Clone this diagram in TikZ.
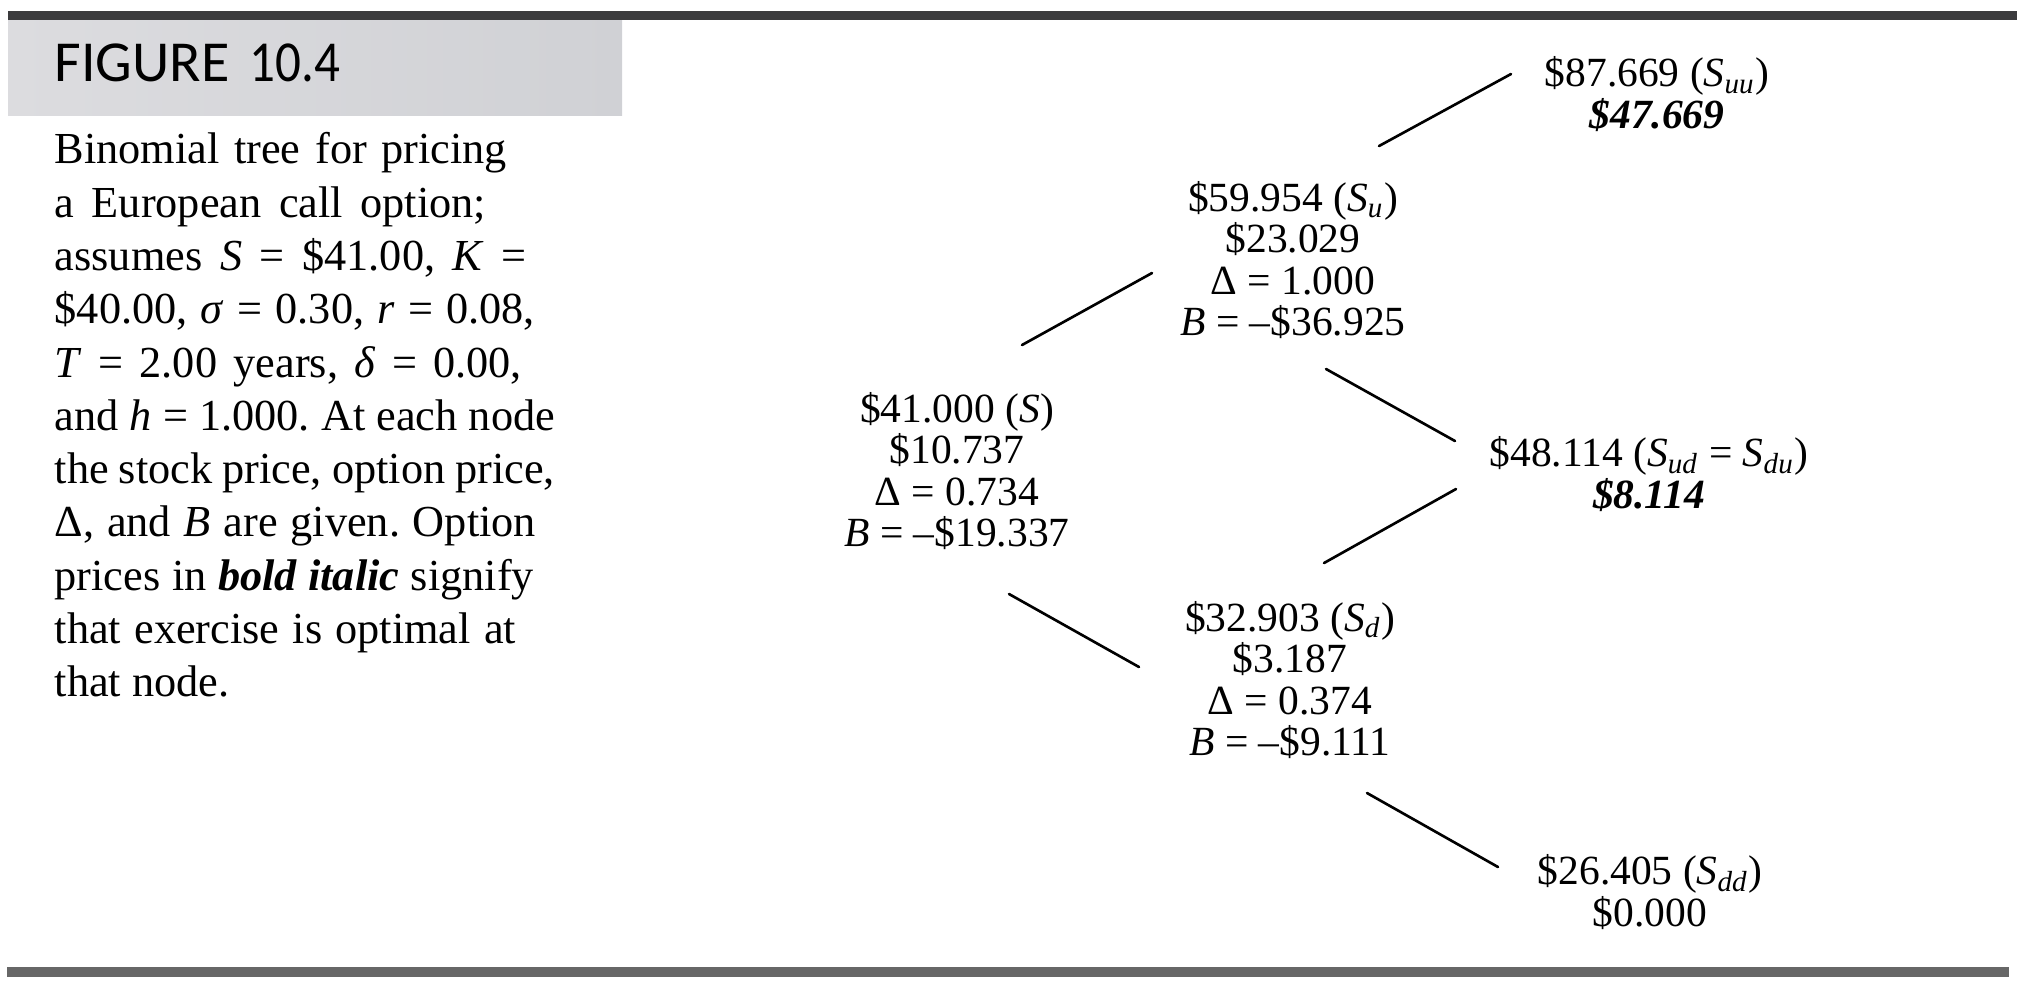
\documentclass[tikz,border=0pt]{standalone}
\usepackage{fontspec}
\setmainfont{Liberation Serif}
\newfontfamily\headfont{Carlito}
\definecolor{rulegray}{HTML}{3B3B3D}
\definecolor{footgray}{HTML}{676767}
\definecolor{headlight}{HTML}{DCDCDF}
\definecolor{headdark}{HTML}{BEBEC3}
\definecolor{headmid}{HTML}{D0D1D5}
\tikzset{
    price/.style={align=center, inner sep=0pt, font=\fontsize{11.8}{11.8}\selectfont},
    branch/.style={line width=.75pt, line cap=round},
}
\newcommand{\sub}[1]{\textit{S}\textsubscript{\textit{#1}}}
\newcommand{\capline}[2]{\makebox[#1mm][s]{#2}}
\frenchspacing

\begin{document}
\begin{tikzpicture}[x=0.01cm, y=-0.01cm]
    \useasboundingbox (0,0) rectangle (2028,990);
    % Rules and header
    \fill[rulegray] (8,11) rectangle (2017,20);
    \fill[footgray] (7,967) rectangle (2009,977);
    \shade[left color=headlight, middle color=headdark, right color=headmid] (8,20) rectangle (622,115);
    \node[anchor=base west, inner sep=0pt, font=\headfont\fontsize{16.5}{16.5}\selectfont] (Title) at (54,81) {FIGURE\hspace{0.35em}\scalebox{0.88}[1]{10.4}};
    % Caption
    \node[anchor=north west, align=left, inner sep=0pt, font=\fontsize{12.6}{15.15}\selectfont] (Caption) at (54,132) {%
        \capline{45.2}{Binomial tree for pricing}\\
        \capline{43.1}{a European call option;}\\
        \capline{47.2}{assumes \textit{S} = \$41.00, \textit{K} =}\\
        \capline{48.0}{\$40.00, \textit{σ} = 0.30, \textit{r} = 0.08,}\\
        \capline{46.7}{\textit{T} = 2.00 years, \textit{δ} = 0.00,}\\
        \capline{50.0}{and \textit{h} = 1.000. At each node}\\
        \capline{50.0}{the stock price, option price,}\\
        \capline{48.1}{Δ, and \textit{B} are given. Option}\\
        \capline{47.9}{prices in \textbf{\textit{bold italic}} signify}\\
        \capline{46.1}{that exercise is optimal at}\\
        that node.};
    % Step 0
    \node[price] (Node-0) at (957,471) {\$41.000 (\textit{S})\\\$10.737\\Δ = 0.734\\\textit{B} = –\$19.337};
    % Step 1
    \node[price] (Node-u) at (1293,260) {\$59.954 (\sub{u})\\\$23.029\\Δ = 1.000\\\textit{B} = –\$36.925};
    \node[price] (Node-d) at (1290,680) {\$32.903 (\sub{d})\\\$3.187\\Δ = 0.374\\\textit{B} = –\$9.111};
    % Step 2
    \node[price] (Node-uu) at (1657,94) {\$87.669 (\sub{uu})\\\textbf{\textit{\$47.669}}};
    \node[price] (Node-ud) at (1649,474) {\$48.114 (\sub{ud} = \sub{du})\\\textbf{\textit{\$8.114}}};
    \node[price] (Node-dd) at (1650,892) {\$26.405 (\sub{dd})\\\$0.000};
    % Branches
    \foreach \name/\xa/\ya/\xb/\yb in {0-u/1022/345/1152/273, u-uu/1379/146/1511/74,
        u-ud/1326/369/1455/441, d-ud/1324/563/1456/489,
        0-d/1009/594/1139/667, d-dd/1367/793/1498/867} {
        \coordinate (\name-a) at (\xa,\ya);
        \coordinate (\name-b) at (\xb,\yb);
        \draw[branch] (\name-a) -- (\name-b);
    }
\end{tikzpicture}
\end{document}
